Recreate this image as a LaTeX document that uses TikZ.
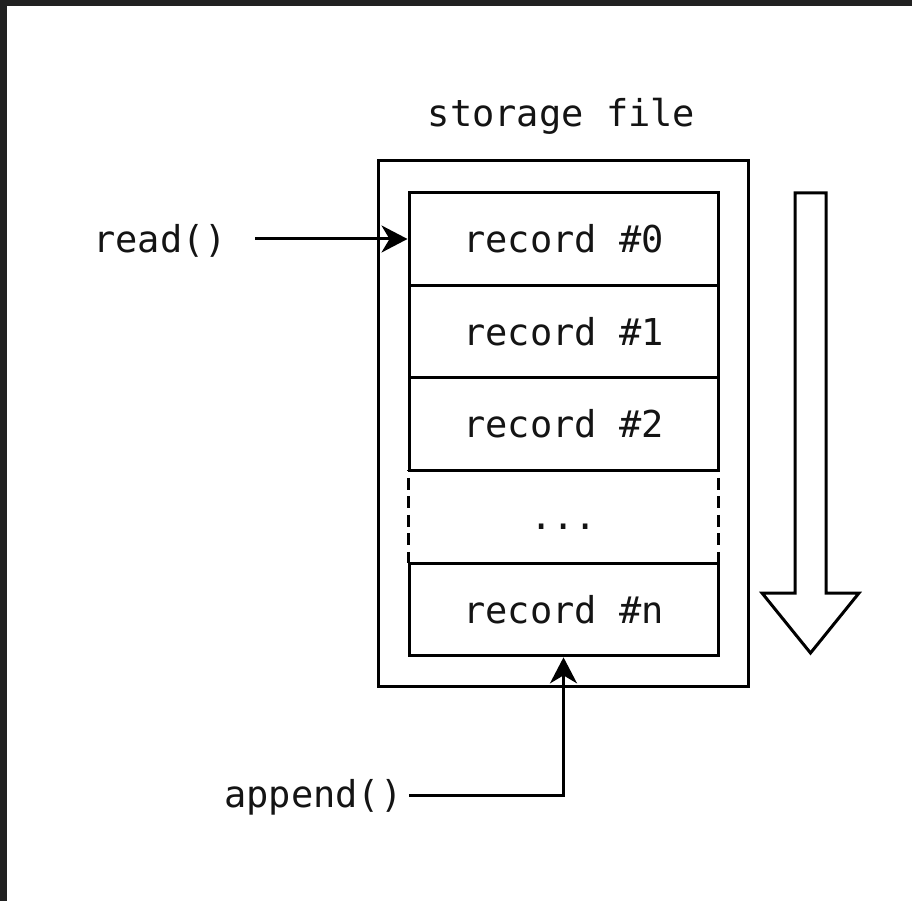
\documentclass[tikz,border=0pt]{standalone}
\usepackage{fontspec}
\setmonofont{DejaVu Sans Mono}
\usetikzlibrary{arrows.meta}
\begin{document}
\begin{tikzpicture}[x=1pt,y=-1pt,
  lbl/.style={font=\ttfamily\fontsize{37}{44}\selectfont, text=black!92, inner sep=0pt},
  rec/.style={draw, line width=3pt, minimum width=309pt, minimum height=92.7pt, inner sep=0pt, lbl},
  frame/.style={draw, line width=3pt, minimum width=370pt, minimum height=525pt, inner sep=0pt},
  conn/.style={line width=3pt, -{Stealth[length=26pt,width=27pt,inset=8pt]}},
  gapedge/.style={line width=3pt, dash pattern=on 12pt off 6.5pt, dash phase=-8pt},
  bigarrow/.style={draw, line width=3pt, line join=miter, fill=white}]

  % page and dark window edge along top and left
  \useasboundingbox (0,0) rectangle (912,901);
  \fill[white] (0,0) rectangle (912,901);
  \fill[black!87] (0,0) rectangle (912,6);
  \fill[black!87] (0,0) rectangle (7,901);

  % storage file with its records
  \node[frame] (file) at (563,423.5) {};
  \node[lbl, anchor=base] (title) at (561.5,127) {storage file};

  \node[rec] (r0) at (563.5,239) {record \#0};
  \node[rec] (r1) at (563.5,331.5) {record \#1};
  \node[rec] (r2) at (563.5,424) {record \#2};
  \node[minimum width=309pt, minimum height=92.7pt, inner sep=0pt] (gap) at (563.5,516.5) {};
  \node[lbl, anchor=base] (dots) at (563.5,529) {...};
  \node[rec] (rn) at (563.5,609.5) {record \#n};
  \draw[gapedge] (gap.north west) -- (gap.south west);
  \draw[gapedge] (gap.north east) -- (gap.south east);

  % read and append operations
  \node[lbl, anchor=base west] (read) at (93,253) {read()};
  \coordinate (readstart) at (255,239);
  \draw[conn] (readstart) -- (r0.west);

  \node[lbl, anchor=base west] (append) at (224,807) {append()};
  \coordinate (appendstart) at (409,795);
  \draw[conn] (appendstart) -| (rn.south);

  % direction of reading
  \draw[bigarrow] (795,193) -- (826,193) -- (826,593) -- (859,593) -- (810.5,653)
    -- (762,593) -- (795,593) -- cycle;
\end{tikzpicture}
\end{document}
